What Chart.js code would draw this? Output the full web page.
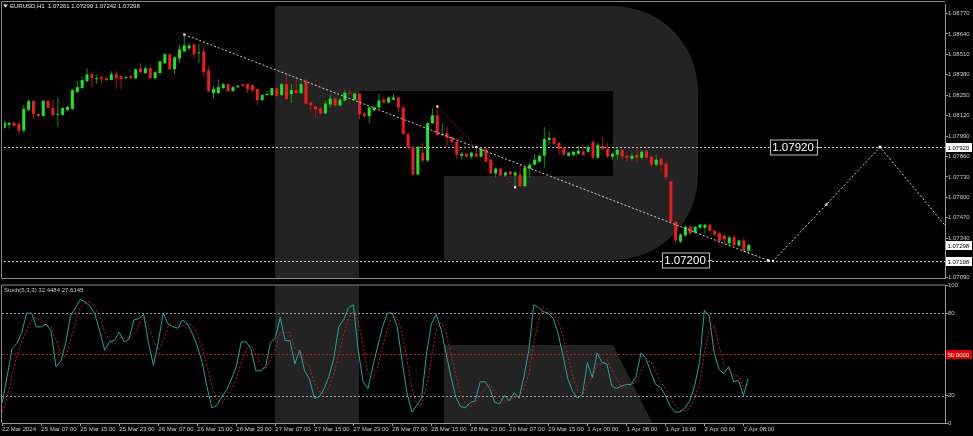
<!DOCTYPE html>
<html lang="en">
<head>
<meta charset="UTF-8">
<title>EURUSD H1</title>
<script src="https://cdn.jsdelivr.net/npm/chart.js"></script>
<style>
  html, body { margin: 0; padding: 0; background: #000; }
  body { width: 973px; height: 436px; position: relative; overflow: hidden; }
  #boxMain { position: absolute; left: 0; top: 0; width: 973px; height: 282px; }
  #boxStoch { position: absolute; left: 0; top: 282px; width: 973px; height: 154px; }
</style>
</head>
<body>
<div id="boxMain"><canvas id="main" width="973" height="282"></canvas></div>
<div id="boxStoch"><canvas id="stoch" width="973" height="154"></canvas></div>
<script>
// ---- data ----
const timeLabels = ['22 Mar 2024','25 Mar 07:00','25 Mar 15:00','25 Mar 23:00','26 Mar 07:00','26 Mar 15:00',
  '26 Mar 23:00','27 Mar 07:00','27 Mar 15:00','27 Mar 23:00','28 Mar 07:00','28 Mar 15:00','28 Mar 23:00',
  '29 Mar 07:00','29 Mar 15:00','1 Apr 00:00','1 Apr 08:00','1 Apr 16:00','2 Apr 00:00','2 Apr 08:00'];
const priceTicks = [1.08770,1.08640,1.08510,1.08380,1.08250,1.08120,1.07990,1.07860,1.07730,1.07600,1.07470,1.07340,1.07090];
const stochTicks = [100,80,20,0];

const open = [1.08043,1.08062,1.08074,1.08068,1.08024,1.08156,1.08213,1.08131,1.08118,1.08213,
  1.08169,1.08125,1.08125,1.08156,1.08163,1.08270,1.08295,1.08339,1.08383,1.08352,
  1.08364,1.08358,1.08346,1.08383,1.08371,1.08358,1.08371,1.08358,1.08421,1.08390,
  1.08421,1.08358,1.08390,1.08453,1.08510,1.08415,1.08484,1.08528,1.08547,1.08573,
  1.08516,1.08528,1.08409,1.08263,1.08263,1.08295,1.08320,1.08276,1.08301,1.08320,
  1.08320,1.08314,1.08289,1.08219,1.08251,1.08251,1.08295,1.08251,1.08320,1.08257,
  1.08282,1.08263,1.08335,1.08203,1.08178,1.08166,1.08134,1.08191,1.08229,1.08185,
  1.08216,1.08266,1.08222,1.08260,1.08134,1.08116,1.08153,1.08172,1.08222,1.08203,
  1.08222,1.08235,1.08172,1.08003,1.07921,1.07746,1.07884,1.07834,1.08072,1.08122,
  1.07997,1.08009,1.07984,1.07953,1.07865,1.07877,1.07859,1.07877,1.07859,1.07909,
  1.07840,1.07752,1.07783,1.07739,1.07765,1.07739,1.07746,1.07671,1.07783,1.07808,
  1.07827,1.07865,1.07965,1.07978,1.07946,1.07915,1.07865,1.07871,1.07877,1.07890,
  1.07890,1.07953,1.07852,1.07928,1.07909,1.07859,1.07871,1.07902,1.07865,1.07846,
  1.07871,1.07852,1.07896,1.07859,1.07808,1.07846,1.07815,1.07702,1.07445,1.07319,
  1.07357,1.07413,1.07376,1.07407,1.07407,1.07426,1.07388,1.07370,1.07357,1.07307,
  1.07345,1.07294,1.07326,1.07261];
const high = [1.08087,1.08080,1.08080,1.08080,1.08188,1.08219,1.08219,1.08137,1.08219,1.08219,
  1.08226,1.08232,1.08175,1.08181,1.08289,1.08339,1.08371,1.08421,1.08390,1.08383,
  1.08377,1.08364,1.08402,1.08402,1.08371,1.08371,1.08377,1.08421,1.08453,1.08434,
  1.08434,1.08402,1.08472,1.08516,1.08516,1.08497,1.08573,1.08636,1.08585,1.08579,
  1.08579,1.08554,1.08434,1.08308,1.08352,1.08327,1.08327,1.08308,1.08314,1.08323,
  1.08324,1.08320,1.08295,1.08257,1.08276,1.08298,1.08298,1.08327,1.08385,1.08320,
  1.08358,1.08339,1.08354,1.08210,1.08185,1.08172,1.08216,1.08254,1.08235,1.08229,
  1.08285,1.08285,1.08266,1.08266,1.08141,1.08178,1.08185,1.08260,1.08241,1.08241,
  1.08260,1.08241,1.08178,1.08009,1.07928,1.07928,1.07946,1.08078,1.08166,1.08178,
  1.08072,1.08047,1.07990,1.07965,1.07890,1.07884,1.07890,1.07920,1.07915,1.07915,
  1.07846,1.07790,1.07790,1.07765,1.07771,1.07765,1.07802,1.07796,1.07821,1.07877,
  1.07871,1.08047,1.08022,1.07984,1.07953,1.07921,1.07890,1.07896,1.07928,1.07934,
  1.07934,1.07959,1.07946,1.07984,1.07946,1.07884,1.07915,1.07909,1.07871,1.07884,
  1.07915,1.07902,1.07902,1.07865,1.07871,1.07852,1.07827,1.07708,1.07451,1.07370,
  1.07420,1.07420,1.07420,1.07432,1.07432,1.07432,1.07395,1.07382,1.07370,1.07357,
  1.07357,1.07332,1.07345,1.07299];
const low = [1.08036,1.08036,1.08049,1.08005,1.08011,1.08150,1.08099,1.08106,1.08112,1.08163,
  1.08118,1.08049,1.08118,1.08150,1.08156,1.08263,1.08289,1.08333,1.08301,1.08320,
  1.08320,1.08339,1.08346,1.08289,1.08289,1.08352,1.08352,1.08352,1.08390,1.08383,
  1.08352,1.08352,1.08390,1.08446,1.08409,1.08383,1.08453,1.08522,1.08541,1.08484,
  1.08453,1.08364,1.08270,1.08232,1.08257,1.08289,1.08270,1.08270,1.08295,1.08302,
  1.08263,1.08270,1.08188,1.08213,1.08245,1.08245,1.08238,1.08245,1.08219,1.08200,
  1.08257,1.08257,1.08191,1.08141,1.08103,1.08128,1.08128,1.08172,1.08178,1.08178,
  1.08210,1.08254,1.08216,1.08097,1.08109,1.08072,1.08147,1.08166,1.08197,1.08197,
  1.08216,1.08141,1.07997,1.07896,1.07739,1.07739,1.07821,1.07827,1.08066,1.07990,
  1.07990,1.07921,1.07946,1.07846,1.07840,1.07852,1.07846,1.07852,1.07852,1.07821,
  1.07746,1.07727,1.07733,1.07733,1.07733,1.07664,1.07664,1.07664,1.07727,1.07802,
  1.07821,1.07790,1.07934,1.07934,1.07871,1.07865,1.07859,1.07859,1.07871,1.07865,
  1.07884,1.07846,1.07846,1.07896,1.07852,1.07840,1.07840,1.07834,1.07827,1.07834,
  1.07821,1.07840,1.07846,1.07796,1.07796,1.07758,1.07708,1.07439,1.07307,1.07307,
  1.07351,1.07363,1.07370,1.07401,1.07370,1.07382,1.07351,1.07307,1.07294,1.07288,
  1.07288,1.07282,1.07250,1.07242];
const close = [1.08074,1.08074,1.08055,1.08024,1.08163,1.08213,1.08131,1.08118,1.08213,1.08169,
  1.08125,1.08131,1.08169,1.08175,1.08282,1.08301,1.08346,1.08383,1.08358,1.08358,
  1.08352,1.08346,1.08383,1.08358,1.08352,1.08364,1.08358,1.08415,1.08396,1.08421,
  1.08358,1.08396,1.08465,1.08510,1.08415,1.08491,1.08541,1.08566,1.08566,1.08510,
  1.08522,1.08396,1.08276,1.08289,1.08301,1.08320,1.08276,1.08301,1.08308,1.08310,
  1.08289,1.08282,1.08219,1.08251,1.08257,1.08295,1.08245,1.08320,1.08226,1.08282,
  1.08263,1.08320,1.08197,1.08185,1.08160,1.08134,1.08197,1.08229,1.08185,1.08222,
  1.08266,1.08260,1.08260,1.08128,1.08116,1.08172,1.08172,1.08216,1.08203,1.08235,
  1.08235,1.08172,1.08003,1.07921,1.07746,1.07921,1.07834,1.08072,1.08122,1.07997,
  1.08003,1.07978,1.07953,1.07871,1.07877,1.07859,1.07884,1.07859,1.07909,1.07827,
  1.07752,1.07783,1.07739,1.07758,1.07746,1.07758,1.07671,1.07790,1.07808,1.07840,
  1.07865,1.07971,1.07978,1.07940,1.07909,1.07871,1.07884,1.07890,1.07896,1.07871,
  1.07921,1.07852,1.07934,1.07909,1.07859,1.07877,1.07902,1.07859,1.07852,1.07865,
  1.07852,1.07890,1.07852,1.07808,1.07840,1.07808,1.07727,1.07445,1.07326,1.07363,
  1.07413,1.07370,1.07413,1.07426,1.07426,1.07388,1.07363,1.07326,1.07332,1.07345,
  1.07294,1.07326,1.07261,1.07298];

const stochK = [15,34,54,58,66,80,80,70,70,72, 67,41,45,58,78,84,90,88,85,79,
  67,53,59,60,66,59,61,75,76,79, 58,42,59,80,72,70,69,75,72,65,
  56,44,26,11,13,19,24,32,41,59, 59,54,38,38,41,58,62,77,60,60,
  43,53,38,32,18,19,25,34,47,70, 75,84,86,53,30,25,41,56,70,80,
  80,70,45,22,8,13,18,50,72,79, 68,51,34,19,12,11,15,16,30,30,
  25,15,14,20,16,22,18,34,53,86, 84,81,80,76,65,49,32,23,18,21,
  44,33,51,44,43,27,25,27,28,28, 34,51,47,37,28,26,20,12,8,8,
  11,16,27,44,82,78,51,39,36,41, 30,31,20,32.4484];
const stochD = [8,18,35,49,59,68,75,77,73,71, 70,60,51,48,60,73,84,87,88,84,
  77,66,60,57,62,62,62,65,71,77, 71,60,53,60,70,74,70,71,72,71,
  64,55,42,27,17,14,19,25,32,44, 53,57,50,43,39,46,54,66,66,66,
  54,52,45,41,29,23,21,26,35,50, 64,76,82,74,56,36,32,41,56,69,
  77,77,65,46,25,14,13,27,47,67, 73,66,51,35,21,14,12,14,20,25,
  28,23,18,16,17,19,19,25,35,58, 75,84,82,79,74,63,49,34,24,21,
  28,33,43,43,46,38,32,26,26,28, 30,38,44,45,37,30,25,19,13,9,
  9,11,18,29,51,68,71,56,42,39, 35,34,27,27.6145];

// drawn objects
const trendBars = [37, 157];
const trendPrices = [1.08636, 1.07198];
const redBars = [89, 97, 105];
const redPrices = [1.08178, 1.07920, 1.07664];
const fcBars = [157, 158, 169, 180, 193.4];
const fcPrices = [1.07198, 1.07195, 1.07555, 1.07920, 1.07420];
const hLevels = [1.07920, 1.07198];
const axisMarks = [1.07920, 1.07298, 1.07198];
const tagTexts = ['1.07920', '1.07200'];
const tagPrices = [1.07920, 1.07200];
const tagBars = [166.9, 144.7];
const stochLevels = [80, 50, 20];

// ---- helpers ----
const FONT = '"Liberation Sans", Arial, sans-serif';
const AXIS = '#9a9a9a';
const TXT = '#c8c8c8';
const xMin = -0.06, xMax = 193.35;

const bodyColors = open.map((o, i) => close[i] >= o ? '#1ee61e' : '#f01c1c');
const wickColors = open.map((o, i) => close[i] >= o ? '#0e960e' : '#b41212');

function drawR(ctx, a, offY) {
  ctx.save();
  ctx.beginPath();
  ctx.rect(a.left, a.top, a.right - a.left, a.bottom - a.top);
  ctx.clip();
  ctx.translate(0, -offY);
  ctx.fillStyle = '#232323';
  ctx.beginPath();
  ctx.moveTo(275, 6);
  ctx.lineTo(613, 6);
  ctx.arcTo(698, 6, 698, 91, 85);
  ctx.lineTo(698, 175);
  ctx.arcTo(698, 260, 613, 260, 85);
  ctx.lineTo(444, 260);
  ctx.lineTo(444, 176);
  ctx.lineTo(613, 176);
  ctx.lineTo(613, 91);
  ctx.lineTo(359, 91);
  ctx.lineTo(359, 436);
  ctx.lineTo(275, 436);
  ctx.closePath();
  ctx.moveTo(444, 345);
  ctx.lineTo(613, 345);
  ctx.lineTo(659, 436);
  ctx.lineTo(444, 436);
  ctx.closePath();
  ctx.fill();
  ctx.restore();
}

function dotted(ctx, x1, x2, py, color) {
  ctx.save();
  ctx.strokeStyle = color;
  ctx.lineWidth = 1;
  ctx.setLineDash([2, 2]);
  ctx.beginPath();
  ctx.moveTo(x1, py);
  ctx.lineTo(x2, py);
  ctx.stroke();
  ctx.restore();
}

function axisBox(ctx, x, py, text, bg, fg) {
  ctx.save();
  ctx.fillStyle = bg;
  ctx.fillRect(x, py - 4.5, 26, 9);
  ctx.fillStyle = fg;
  ctx.font = '6px ' + FONT;
  ctx.textBaseline = 'middle';
  ctx.textAlign = 'left';
  ctx.fillText(text, x + 1.5, py + 0.5);
  ctx.restore();
}

const pts = (xs, ys) => xs.map((x, i) => ({ x: x, y: ys[i] }));

// ---- main price chart ----
const mainDeco = {
  id: 'mainDeco',
  beforeDatasetsDraw(chart) {
    const { ctx, chartArea: a, scales: { y } } = chart;
    drawR(ctx, a, 0);
    hLevels.forEach(v => dotted(ctx, a.left, a.right, Math.round(y.getPixelForValue(v)) + 0.5, '#c8c8c8'));
  },
  afterDraw(chart) {
    const { ctx, chartArea: a, scales: { x, y } } = chart;
    // frame
    ctx.save();
    ctx.strokeStyle = '#8a8a8a';
    ctx.lineWidth = 1;
    ctx.beginPath();
    ctx.moveTo(1.5, a.bottom + 0.5);
    ctx.lineTo(1.5, 1.5);
    ctx.lineTo(a.right, 1.5);
    ctx.moveTo(1.5, a.bottom + 0.5);
    ctx.lineTo(a.right, a.bottom + 0.5);
    ctx.stroke();
    ctx.restore();
    // price tags on the chart
    tagTexts.forEach((t, i) => {
      const px = x.getPixelForValue(tagBars[i]);
      const py = Math.round(y.getPixelForValue(tagPrices[i])) + 0.5;
      ctx.save();
      ctx.font = '11.5px ' + FONT;
      const w = ctx.measureText(t).width + 5;
      ctx.fillStyle = '#000';
      ctx.fillRect(px - w, py - 7.5, w, 15);
      ctx.strokeStyle = '#bdbdbd';
      ctx.strokeRect(Math.round(px - w) + 0.5, py - 7.5, Math.round(w), 15);
      ctx.beginPath();
      ctx.moveTo(px, py);
      ctx.lineTo(px + 4, py);
      ctx.stroke();
      ctx.fillStyle = '#ffffff';
      ctx.textBaseline = 'middle';
      ctx.fillText(t, px - w + 2.5, py + 0.5);
      ctx.restore();
    });
    // boxed values on the price axis
    axisMarks.forEach(v => axisBox(ctx, a.right + 1, Math.round(y.getPixelForValue(v)) + 0.5, v.toFixed(5), '#ffffff', '#000000'));
    // header
    ctx.save();
    ctx.fillStyle = '#e8e8e8';
    ctx.beginPath();
    ctx.moveTo(3, 4.5); ctx.lineTo(8, 4.5); ctx.lineTo(5.5, 7.5); ctx.closePath();
    ctx.fill();
    ctx.font = '6px ' + FONT;
    ctx.textBaseline = 'middle';
    ctx.fillText('EURUSD,H1  ' + [open[153], high[153], low[153], close[153]].map(v => v.toFixed(5)).join(' '), 10, 6);
    ctx.restore();
  }
};

new Chart(document.getElementById('main'), {
  type: 'bar',
  data: {
    datasets: [
      {
        type: 'line', order: 0, data: pts(trendBars, trendPrices),
        borderColor: '#d0d0d0', borderWidth: 1, borderDash: [2, 2],
        pointStyle: 'rect', pointRadius: 1.5, pointBackgroundColor: '#ffffff', pointBorderWidth: 0
      },
      {
        type: 'line', order: 0, data: pts(redBars, redPrices),
        borderColor: '#a81818', borderWidth: 1, borderDash: [2, 2],
        pointStyle: 'rect', pointRadius: 1.5, pointBackgroundColor: '#ffffff', pointBorderWidth: 0
      },
      {
        type: 'line', order: 0, data: pts(fcBars, fcPrices),
        borderColor: '#d0d0d0', borderWidth: 1, borderDash: [2, 2],
        pointStyle: 'rect', pointRadius: [1.5, 1.5, 1.5, 2, 0], pointBackgroundColor: '#ffffff', pointBorderWidth: 0
      },
      {
        label: 'body', order: 1, grouped: false, minBarLength: 1, inflateAmount: 0,
        barThickness: 3, maxBarThickness: 3,
        data: open.map((o, i) => ({ x: i, y: [o, close[i]] })),
        backgroundColor: bodyColors, borderWidth: 0
      },
      {
        label: 'wick', order: 2, grouped: false, inflateAmount: 0,
        barThickness: 1, maxBarThickness: 1,
        data: low.map((l, i) => ({ x: i, y: [l, high[i]] })),
        backgroundColor: wickColors, borderWidth: 0
      }
    ]
  },
  options: {
    responsive: false, animation: false, devicePixelRatio: 1, events: [],
    layout: { padding: { left: 2, top: 2, right: 0, bottom: 2 } },
    plugins: { legend: { display: false }, tooltip: { enabled: false } },
    scales: {
      x: { type: 'linear', min: xMin, max: xMax, display: false, offset: false },
      y: {
        position: 'right', min: 1.07087, max: 1.08830,
        afterFit: s => { s.width = 28; },
        afterBuildTicks: s => { s.ticks = priceTicks.map(v => ({ value: v })); },
        ticks: { color: TXT, padding: 0, font: { size: 6, family: FONT }, callback: v => v.toFixed(5) },
        grid: { drawOnChartArea: false, color: AXIS, tickLength: 3 },
        border: { color: AXIS }
      }
    }
  },
  plugins: [mainDeco]
});

// ---- stochastic panel ----
const stochDeco = {
  id: 'stochDeco',
  beforeDatasetsDraw(chart) {
    const { ctx, chartArea: a, scales: { y } } = chart;
    drawR(ctx, a, 282);
    stochLevels.forEach(v => dotted(ctx, a.left, a.right, Math.round(y.getPixelForValue(v)) + 0.5, v === 50 ? '#d01414' : '#a0a0a0'));
  },
  afterDraw(chart) {
    const { ctx, chartArea: a, scales: { y } } = chart;
    ctx.save();
    ctx.strokeStyle = '#8a8a8a';
    ctx.lineWidth = 1;
    ctx.beginPath();
    ctx.moveTo(1.5, a.bottom);
    ctx.lineTo(1.5, a.top - 0.5);
    ctx.lineTo(a.right, a.top - 0.5);
    ctx.stroke();
    ctx.restore();
    axisBox(ctx, a.right + 1, Math.round(y.getPixelForValue(50)) + 0.5, '50.0000', '#e00000', '#ffffff');
    ctx.save();
    ctx.fillStyle = TXT;
    ctx.font = '6px ' + FONT;
    ctx.textBaseline = 'middle';
    ctx.fillText('Stoch(5,3,3) ' + stochK[153].toFixed(4) + ' ' + stochD[153].toFixed(4), 4, a.top + 5);
    ctx.restore();
  }
};

new Chart(document.getElementById('stoch'), {
  type: 'line',
  data: {
    datasets: [
      {
        label: '%K', data: stochK.map((v, i) => ({ x: i, y: v })),
        borderColor: '#22a39e', borderWidth: 1, pointRadius: 0, tension: 0
      },
      {
        label: '%D', data: stochD.map((v, i) => ({ x: i, y: v })),
        borderColor: '#c81c1c', borderWidth: 1, borderDash: [2, 2], pointRadius: 0, tension: 0
      }
    ]
  },
  options: {
    responsive: false, animation: false, devicePixelRatio: 1, events: [],
    layout: { padding: { left: 2, top: 2, right: 0, bottom: 0 } },
    plugins: { legend: { display: false }, tooltip: { enabled: false } },
    scales: {
      x: {
        type: 'linear', min: xMin, max: xMax, offset: false,
        afterFit: s => { s.height = 13; },
        afterBuildTicks: s => { s.ticks = timeLabels.map((t, i) => ({ value: i * 8 })); },
        ticks: {
          color: TXT, padding: 0, align: 'start', autoSkip: false, maxRotation: 0, minRotation: 0,
          font: { size: 6, family: FONT }, callback: v => timeLabels[Math.round(v / 8)]
        },
        grid: { drawOnChartArea: false, color: AXIS, tickLength: 3 },
        border: { color: AXIS }
      },
      y: {
        position: 'right', min: 0, max: 100,
        afterFit: s => { s.width = 28; },
        afterBuildTicks: s => { s.ticks = stochTicks.map(v => ({ value: v })); },
        ticks: { color: TXT, padding: 0, font: { size: 6, family: FONT } },
        grid: { drawOnChartArea: false, color: AXIS, tickLength: 3 },
        border: { color: AXIS }
      }
    }
  },
  plugins: [stochDeco]
});
</script>
</body>
</html>
